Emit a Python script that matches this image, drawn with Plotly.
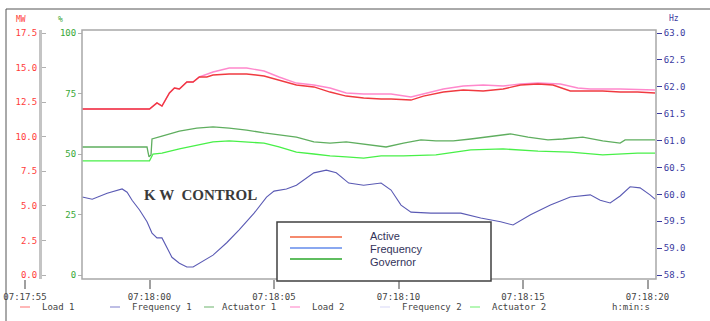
import pandas as pd
import plotly.graph_objects as go

# ---------------- data (seconds after 07:17:55) ----------------
load1_t = [2.3, 5.0, 5.3, 5.5, 5.8, 6.0, 6.2, 6.5, 6.75, 7.0, 7.3, 7.55, 8.2, 8.9, 9.6, 10.2, 10.9, 11.6,
           12.25, 12.9, 13.6, 14.3, 14.7, 15.5, 16.0, 16.8, 17.6, 18.4, 19.2, 19.9, 20.6, 21.2, 21.9,
           22.6, 23.2, 23.9, 24.6, 25.3]
load1_v = [12.00, 12.00, 12.44, 12.22, 13.16, 13.52, 13.45, 13.96, 13.96, 14.32, 14.32, 14.46, 14.54,
           14.54, 14.39, 14.10, 13.74, 13.60, 13.23, 12.94, 12.80, 12.73, 12.73, 12.65, 12.94, 13.23,
           13.38, 13.31, 13.45, 13.74, 13.81, 13.74, 13.31, 13.31, 13.31, 13.23, 13.23, 13.16]

load2_t = [2.3, 5.0, 5.3, 5.5, 5.8, 6.0, 6.2, 6.5, 6.75, 7.0, 7.55, 8.2, 8.9, 9.6, 10.2, 10.9, 11.6,
           12.25, 12.9, 13.6, 14.3, 14.7, 15.5, 16.0, 16.8, 17.6, 18.4, 19.2, 19.9, 20.6, 21.5, 22.2,
           22.7, 23.9, 25.3]
load2_v = [12.00, 12.00, 12.44, 12.22, 13.16, 13.52, 13.45, 13.96, 13.96, 14.32, 14.68, 14.97, 14.97,
           14.75, 14.32, 13.88, 13.74, 13.52, 13.16, 13.09, 13.09, 13.09, 12.87, 13.09, 13.45, 13.67,
           13.74, 13.67, 13.81, 13.88, 13.81, 13.52, 13.45, 13.45, 13.38]

act1_t = [2.3, 4.9, 4.94, 4.98, 5.06, 5.1, 5.5, 6.2, 6.9, 7.55, 8.2, 8.9, 9.6, 10.2, 10.9, 11.6, 12.25,
          12.9, 13.6, 14.3, 14.5, 15.2, 15.9, 16.5, 17.2, 17.9, 18.6, 19.5, 20.2, 21.0, 21.6, 22.4,
          23.2, 23.9, 24.1, 25.3]
act1_v = [52.9, 52.9, 50.8, 48.8, 49.6, 56.2, 57.4, 59.5, 60.7, 61.2, 60.7, 59.9, 58.7, 57.9, 57.0,
          55.0, 54.5, 55.0, 54.1, 52.9, 52.9, 54.5, 55.8, 55.4, 55.4, 56.2, 57.0, 58.3, 57.0, 55.8,
          56.2, 57.0, 55.4, 54.5, 55.8, 55.8]

act2_t = [2.3, 5.0, 5.14, 5.5, 6.2, 6.9, 7.55, 8.2, 8.9, 9.6, 10.2, 10.9, 11.6, 12.25, 12.9, 13.6,
          14.3, 15.2, 16.5, 17.9, 19.2, 20.6, 21.9, 22.6, 23.2, 24.6, 25.3]
act2_v = [47.2, 47.2, 50.0, 50.4, 52.1, 53.7, 55.0, 55.4, 55.0, 54.5, 52.9, 50.8, 50.0, 49.2, 48.8,
          48.3, 49.2, 49.2, 49.6, 51.7, 52.1, 51.2, 50.8, 50.0, 49.6, 50.4, 50.4]

freq1_t = [2.3, 2.7, 3.3, 3.9, 4.1, 4.3, 4.6, 4.9, 5.1, 5.3, 5.5, 5.7, 5.9, 6.2, 6.5, 6.75, 7.0, 7.55,
           8.1, 8.6, 9.2, 9.7, 10.0, 10.5, 10.9, 11.6, 12.1, 12.5, 13.0, 13.6, 14.3, 14.7, 15.1, 15.5,
           16.3, 17.5, 18.3, 19.1, 19.6, 20.3, 21.1, 21.9, 22.7, 23.1, 23.5, 23.9, 24.3, 24.7, 25.1, 25.3]
freq1_v = [59.95, 59.91, 60.02, 60.10, 60.04, 59.89, 59.71, 59.49, 59.28, 59.19, 59.19, 59.02, 58.83,
           58.72, 58.65, 58.65, 58.72, 58.87, 59.10, 59.34, 59.65, 59.95, 60.06, 60.10, 60.17, 60.40,
           60.45, 60.40, 60.21, 60.17, 60.21, 60.08, 59.80, 59.67, 59.65, 59.65, 59.56, 59.49, 59.43,
           59.62, 59.80, 59.95, 59.99, 59.89, 59.84, 59.97, 60.14, 60.12, 59.99, 59.91]

mw_ticks = [0.0, 2.5, 5.0, 7.5, 10.0, 12.5, 15.0, 17.5]
pct_ticks = [0, 25, 50, 75, 100]
hz_ticks = [58.5, 59.0, 59.5, 60.0, 60.5, 61.0, 61.5, 62.0, 62.5, 63.0]

bottom_legend = ["Load 1", "Frequency 1", "Actuator 1", "Load 2", "Frequency 2", "Actuator 2"]
inset_legend = ["Active", "Frequency", "Governor"]

# ---------------- helpers ----------------
W, H = 710, 321
T0 = pd.Timestamp("2000-01-01 07:17:55")


def ts(sec):
    return T0 + pd.to_timedelta(sec, unit="s")


def px(x):
    return x / W


def py(y):
    return 1 - y / H


MONO = "DejaVu Sans Mono"
RED, GREEN, NAVY = "#ff3b3b", "#38a838", "#3a3aa0"

fig = go.Figure()
fig.add_trace(go.Scatter(x=ts(act1_t), y=act1_v, yaxis="y2", mode="lines",
                         line=dict(color="#5fae5f", width=1.3), name="Actuator 1"))
fig.add_trace(go.Scatter(x=ts(act2_t), y=act2_v, yaxis="y2", mode="lines",
                         line=dict(color="#48f048", width=1.3), name="Actuator 2"))
fig.add_trace(go.Scatter(x=ts(freq1_t), y=freq1_v, yaxis="y3", mode="lines",
                         line=dict(color="#5a5ab4", width=1.1), name="Frequency 1"))
fig.add_trace(go.Scatter(x=ts(load2_t), y=load2_v, yaxis="y", mode="lines",
                         line=dict(color="#ff88cc", width=1.4), name="Load 2"))
fig.add_trace(go.Scatter(x=ts(load1_t), y=load1_v, yaxis="y", mode="lines",
                         line=dict(color="#f03a40", width=1.4), name="Load 1"))

ydom = [py(279), py(30)]
fig.update_layout(
    width=W, height=H, margin=dict(l=0, r=0, t=0, b=0, autoexpand=False),
    paper_bgcolor="white", plot_bgcolor="white", showlegend=False,
    xaxis=dict(domain=[px(25), px(656)], type="date", automargin=False,
               range=[ts(0), ts(25.34)], tick0=ts(0), dtick=5000,
               tickformat="%H:%M:%S", ticks="outside", ticklen=9, tickcolor="#a0a0a0",
               tickwidth=1.5, showline=False, showgrid=False, zeroline=False,
               tickfont=dict(family=MONO, size=9, color="#444444")),
    yaxis=dict(domain=ydom, anchor="free", position=px(40), side="left", automargin=False,
               range=[-0.289, 17.717], tickvals=mw_ticks, tickformat=".1f",
               ticks="inside", ticklen=4, tickcolor="#b0b0b0", showline=True,
               linecolor="#c4c4c4", linewidth=3, showgrid=False, zeroline=False,
               tickfont=dict(family=MONO, size=9, color=RED)),
    yaxis2=dict(domain=ydom, overlaying="y", anchor="free", position=px(82), side="left",
                automargin=False,
                range=[-1.653, 101.24], tickvals=pct_ticks, ticks="outside", ticklen=4,
                tickcolor="#b0b0b0", showline=False, showgrid=False, zeroline=False,
                tickfont=dict(family=MONO, size=9, color=GREEN)),
    yaxis3=dict(domain=ydom, overlaying="y", anchor="free", position=px(656), side="right",
                automargin=False,
                range=[58.426, 63.056], tickvals=hz_ticks, tickformat=".1f",
                ticks="outside", ticklen=5, tickcolor=NAVY, showline=False,
                showgrid=False, zeroline=False,
                tickfont=dict(family=MONO, size=9, color=NAVY)),
)

shapes = []
# outer frame (top and left edges)
shapes.append(dict(type="line", xref="paper", yref="paper", x0=px(6), x1=1, y0=py(9), y1=py(9),
                   line=dict(color="#555555", width=1)))
shapes.append(dict(type="line", xref="paper", yref="paper", x0=px(6), x1=px(6), y0=py(9), y1=0,
                   line=dict(color="#555555", width=1)))
# plot box
shapes.append(dict(type="rect", xref="paper", yref="paper", x0=px(82), x1=px(656),
                   y0=py(279), y1=py(30), line=dict(color="#a8a8a8", width=1.5)))
# inset legend box
shapes.append(dict(type="rect", xref="paper", yref="paper", x0=px(277), x1=px(491),
                   y0=py(281), y1=py(222), line=dict(color="#404040", width=1.5),
                   fillcolor="white", layer="above"))
inset_cols = ["#f58a6e", "#8aa8f0", "#5fbd5f"]
inset_y = [237, 248, 259]
for c, yy in zip(inset_cols, inset_y):
    shapes.append(dict(type="line", xref="paper", yref="paper", x0=px(290), x1=px(342),
                       y0=py(yy), y1=py(yy), line=dict(color=c, width=2)))
# bottom legend samples
leg_x = [20, 110, 204, 290, 380, 470]
leg_cols = ["#ffa0a0", "#a8a8dc", "#9ccc9c", "#ffa8d8", "#e4e4fa", "#9cf49c"]
for x0, c in zip(leg_x, leg_cols):
    shapes.append(dict(type="line", xref="paper", yref="paper", x0=px(x0), x1=px(x0 + 10),
                       y0=py(307), y1=py(307), line=dict(color=c, width=1.5)))
fig.update_layout(shapes=shapes)

ann = []
ann.append(dict(text="MW", x=px(14), y=py(19), xanchor="left", yanchor="middle",
                font=dict(family=MONO, size=8, color=RED)))
ann.append(dict(text="%", x=px(56), y=py(19), xanchor="left", yanchor="middle",
                font=dict(family=MONO, size=8, color=GREEN)))
ann.append(dict(text="Hz", x=px(667), y=py(18), xanchor="left", yanchor="middle",
                font=dict(family=MONO, size=8, color=NAVY)))
ann.append(dict(text="<b>K W  CONTROL</b>", x=px(142), y=py(195), xanchor="left", yanchor="middle",
                font=dict(family="Liberation Serif", size=15, color="#3a3a3a")))
inset_text_y = [236, 249, 262]
for t, yy in zip(inset_legend, inset_text_y):
    ann.append(dict(text=t, x=px(368), y=py(yy), xanchor="left", yanchor="middle",
                    font=dict(family="Liberation Sans", size=11, color="#33335a")))
leg_tx = [40, 130, 220, 310, 400, 490]
for t, x0 in zip(bottom_legend, leg_tx):
    ann.append(dict(text=t, x=px(x0), y=py(307), xanchor="left", yanchor="middle",
                    font=dict(family=MONO, size=9, color="#444444")))
ann.append(dict(text="h:min:s", x=px(610), y=py(307), xanchor="left", yanchor="middle",
                font=dict(family=MONO, size=9, color="#444444")))
for a in ann:
    a.update(xref="paper", yref="paper", showarrow=False)
fig.update_layout(annotations=ann)

fig.write_html("out.html", config={"displayModeBar": False},
               post_script="document.body.style.margin='0';document.body.style.overflow='hidden';")
